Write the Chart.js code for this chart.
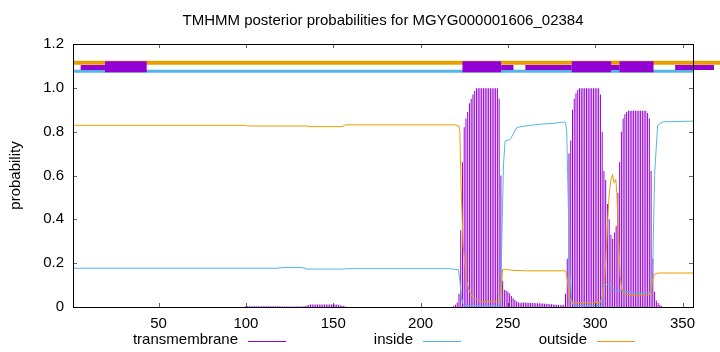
<!DOCTYPE html>
<html>
<head>
<meta charset="utf-8">
<script src="https://cdn.jsdelivr.net/npm/chart.js@4.4.1/dist/chart.umd.min.js"></script>
<style>
  html, body { margin: 0; padding: 0; background: #fff; }
  canvas { display: block; }
</style>
</head>
<body>
<canvas id="tmhmmChart" width="720" height="352"></canvas>
<script>
const chartTitle = "TMHMM posterior probabilities for MGYG000001606_02384";
const xMin = 1;
const xMax = 356;
const xTicks = [50, 100, 150, 200, 250, 300, 350];
const yTicks = [0, 0.2, 0.4, 0.6, 0.8, 1, 1.2];

const outsideX = [1, 99, 101, 135, 137, 155, 157, 220, 222, 222.5, 223.2, 224.4, 226.3, 228, 230, 233, 235, 245, 246, 247, 248, 252, 260, 283, 284, 285, 286, 287, 303, 304, 305, 306, 307, 308, 309, 309.9, 310.8, 311.8, 312.4, 313.3, 314.3, 315, 316, 320, 331, 332, 333, 334, 336, 356];
const outsideY = [0.829, 0.829, 0.826, 0.826, 0.823, 0.823, 0.831, 0.831, 0.825, 0.8, 0.55, 0.28, 0.12, 0.07, 0.045, 0.03, 0.025, 0.024, 0.06, 0.17, 0.173, 0.168, 0.165, 0.165, 0.13, 0.05, 0.025, 0.02, 0.02, 0.05, 0.093, 0.2, 0.368, 0.513, 0.58, 0.605, 0.567, 0.582, 0.52, 0.322, 0.139, 0.09, 0.063, 0.055, 0.055, 0.08, 0.13, 0.15, 0.155, 0.155];

// inside curve (blue)
const insideX = [1, 118, 121, 132, 135, 156, 158, 216, 220, 221.7, 222.5, 223.3, 224.2, 225, 245, 246, 246.5, 247.5, 248.4, 251.3, 255.1, 260, 268.5, 276, 281.8, 283, 283.7, 284.5, 285.5, 286.6, 287.5, 303.7, 304.7, 305.5, 307.6, 309, 310, 311, 312.4, 315, 320, 325.7, 331.5, 333, 334, 335.7, 337, 339.1, 356];
const insideY = [0.177, 0.177, 0.18, 0.18, 0.173, 0.173, 0.175, 0.175, 0.172, 0.17, 0.12, 0.05, 0.015, 0.006, 0.005, 0.05, 0.3, 0.65, 0.757, 0.764, 0.819, 0.826, 0.834, 0.838, 0.844, 0.843, 0.8, 0.5, 0.15, 0.03, 0.006, 0.006, 0.1, 0.102, 0.103, 0.095, 0.085, 0.075, 0.07, 0.076, 0.066, 0.063, 0.068, 0.2, 0.6, 0.826, 0.838, 0.845, 0.848];

// transmembrane posterior, one value per residue
const tmStartA = 100;
const tmProbA = [
  0.003, 0.003, 0.003, 0.003, 0.003, 0.003, 0.003, 0.003, 0.003, 0.003,
  0.003, 0.003, 0.003, 0.003, 0.003, 0.003, 0.003, 0.003, 0.003, 0.003,
  0.002, 0.002, 0.002, 0.002, 0.002, 0.002, 0.002, 0.002, 0.002, 0.002,
  0.002, 0.002, 0.002, 0.002, 0.005, 0.007, 0.009, 0.011, 0.011, 0.011,
  0.011, 0.011, 0.011, 0.011, 0.011, 0.011, 0.011, 0.011, 0.011, 0.011,
  0.011, 0.011, 0.011, 0.01, 0.008, 0.006, 0.004, 0.002
];
const tmStartB = 219;
const tmProbB = [
  0.005, 0.01, 0.02, 0.06, 0.35, 0.66, 0.82, 0.86, 0.89, 0.93,
  0.95, 0.97, 0.985, 0.998, 0.998, 0.998, 0.998, 0.998, 0.998, 0.998,
  0.998, 0.998, 0.998, 0.998, 0.998, 0.998, 0.95, 0.6, 0.12, 0.078,
  0.075, 0.07, 0.062, 0.05, 0.04, 0.032, 0.025, 0.022, 0.018, 0.019,
  0.02, 0.02, 0.019, 0.019, 0.018, 0.018, 0.018, 0.017, 0.017, 0.017,
  0.016, 0.016, 0.015, 0.015, 0.014, 0.013, 0.012, 0.011, 0.01, 0.01,
  0.009, 0.008, 0.008, 0.01, 0.06, 0.22, 0.7, 0.76, 0.9, 0.95,
  0.975, 0.99, 0.998, 0.998, 0.998, 0.998, 0.998, 0.998, 0.998, 0.998,
  0.998, 0.998, 0.998, 0.998, 0.97, 0.8, 0.62, 0.58, 0.47, 0.4,
  0.33, 0.31, 0.34, 0.37, 0.52, 0.66, 0.8, 0.86, 0.88, 0.89,
  0.895, 0.895, 0.895, 0.895, 0.895, 0.895, 0.895, 0.895, 0.895, 0.895,
  0.895, 0.885, 0.86, 0.62, 0.22, 0.07, 0.03, 0.018, 0.01, 0.005
];

// predicted topology bar at the top
const outsideBar = [[1, 385]];
const insideBar = [[1, 356]];
const tmThinBar = [[5.4, 19.3], [246.1, 253.2], [260, 286.6], [309, 314], [345.8, 368]];
const tmThickBar = [[19.3, 43.2], [224, 246.1], [286.6, 309.1], [313.9, 333.4]];

const purple = "#9400d3";
const blue = "#56b4e9";
const orange = "#e69f00";
const fontName = '"Liberation Sans", Arial, sans-serif';
const fontSize = 15;

function toPoints(xs, ys) {
  return xs.map((x, i) => ({ x: x, y: ys[i] }));
}

function tmPoints(start, probs) {
  return probs.map((p, i) => ({ x: start + i, y: p }));
}

function segPoints(segs, level) {
  var pts = [];
  segs.forEach((s) => {
    pts.push({ x: s[0], y: level });
    pts.push({ x: s[1], y: level });
    pts.push({ x: s[1], y: null });
  });
  return pts;
}

function barLine(segs, level, color, width, order) {
  return {
    type: "line",
    data: segPoints(segs, level),
    borderColor: color,
    borderWidth: width,
    borderCapStyle: "butt",
    pointRadius: 0,
    spanGaps: false,
    clip: false,
    order: order,
  };
}

const decor = {
  id: "decor",
  afterDraw(chart) {
    const ctx = chart.ctx;
    const a = chart.chartArea;
    const xs = chart.scales.x;
    const ys = chart.scales.y;
    ctx.save();
    ctx.strokeStyle = "#000";
    ctx.lineWidth = 1;
    ctx.strokeRect(Math.round(a.left) + 0.5, Math.round(a.top) + 0.5,
      Math.round(a.right - a.left), Math.round(a.bottom - a.top));
    ctx.beginPath();
    xTicks.forEach((v) => {
      const px = Math.round(xs.getPixelForValue(v)) + 0.5;
      ctx.moveTo(px, a.bottom);
      ctx.lineTo(px, a.bottom - 4);
      ctx.moveTo(px, a.top);
      ctx.lineTo(px, a.top + 4);
    });
    yTicks.forEach((v) => {
      const py = Math.round(ys.getPixelForValue(v)) + 0.5;
      ctx.moveTo(a.left, py);
      ctx.lineTo(a.left + 4, py);
      ctx.moveTo(a.right, py);
      ctx.lineTo(a.right - 4, py);
    });
    ctx.strokeStyle = "rgba(0,0,0,0.6)";
    ctx.stroke();

    ctx.fillStyle = "#000";
    ctx.font = fontSize + "px " + fontName;
    ctx.textAlign = "center";
    ctx.textBaseline = "middle";
    ctx.fillText(chartTitle, (a.left + a.right) / 2, 21);

    ctx.save();
    ctx.translate(16, (a.top + a.bottom) / 2);
    ctx.rotate(-Math.PI / 2);
    ctx.fillText("probability", 0, 0);
    ctx.restore();

    // legend: text first, then a line sample
    const legend = [
      ["transmembrane", purple, 238, 248],
      ["inside", blue, 413, 423],
      ["outside", orange, 587, 597],
    ];
    ctx.textAlign = "right";
    legend.forEach((l) => {
      ctx.fillStyle = "#000";
      ctx.fillText(l[0], l[2], 340);
      ctx.beginPath();
      ctx.strokeStyle = l[1];
      ctx.lineWidth = 1;
      ctx.moveTo(l[3], 341.5);
      ctx.lineTo(l[3] + 38, 341.5);
      ctx.stroke();
    });
    ctx.restore();
  },
};

const ctx = document.getElementById("tmhmmChart").getContext("2d");
const tmhmmChart = new Chart(ctx, {
  type: "line",
  data: {
    datasets: [
      {
        type: "line",
        label: "outside",
        data: toPoints(outsideX, outsideY),
        borderColor: orange,
        borderWidth: 1,
        pointRadius: 0,
        tension: 0,
        order: 1,
      },
      {
        type: "line",
        label: "inside",
        data: toPoints(insideX, insideY),
        borderColor: blue,
        borderWidth: 1,
        pointRadius: 0,
        tension: 0,
        order: 2,
      },
      barLine(tmThickBar, 1.096, purple, 11, 3),
      barLine(tmThinBar, 1.093, purple, 5, 4),
      barLine(insideBar, 1.076, blue, 3, 5),
      barLine(outsideBar, 1.1145, orange, 4, 6),
      {
        type: "bar",
        label: "transmembrane",
        data: tmPoints(tmStartA, tmProbA).concat(tmPoints(tmStartB, tmProbB)),
        backgroundColor: purple,
        borderWidth: 0,
        inflateAmount: 0,
        barThickness: 1,
        grouped: false,
        order: 7,
      },
    ],
  },
  options: {
    responsive: false,
    animation: false,
    devicePixelRatio: 1,
    layout: { padding: { top: 44, right: 27, left: 0, bottom: 0 } },
    plugins: {
      legend: { display: false },
      tooltip: { enabled: false },
      title: { display: false },
    },
    scales: {
      x: {
        type: "linear",
        min: xMin,
        max: xMax,
        offset: false,
        grid: { display: false, drawTicks: false },
        border: { display: false },
        afterBuildTicks: (scale) => {
          scale.ticks = xTicks.map((v) => ({ value: v }));
        },
        afterFit: (scale) => {
          scale.height = 45;
        },
        ticks: {
          padding: 8,
          maxRotation: 0,
          color: "#000",
          font: { family: fontName, size: fontSize },
        },
      },
      y: {
        min: 0,
        max: 1.2,
        grid: { display: false, drawTicks: false },
        border: { display: false },
        afterBuildTicks: (scale) => {
          scale.ticks = yTicks.map((v) => ({ value: v }));
        },
        afterFit: (scale) => {
          scale.width = 73;
        },
        ticks: {
          padding: 9,
          color: "#000",
          font: { family: fontName, size: fontSize },
        },
      },
    },
  },
  plugins: [decor],
});
</script>
</body>
</html>
